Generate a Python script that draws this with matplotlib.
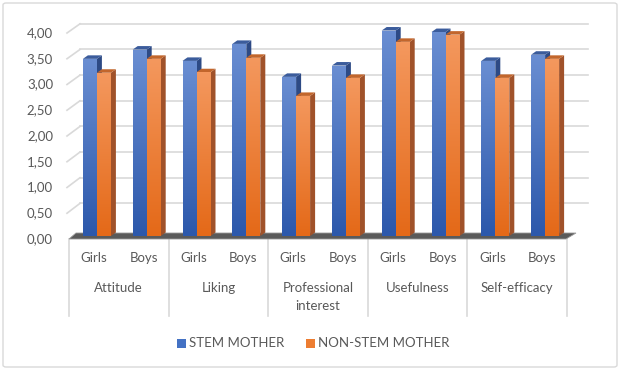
import numpy as np
import matplotlib
matplotlib.use("Agg")
import matplotlib.pyplot as plt
from matplotlib.patches import Polygon, FancyBboxPatch

# data
groups = ["Attitude", "Liking", "Professional\ninterest", "Usefulness", "Self-efficacy"]
genders = ["Girls", "Boys"]
stem_mother = [3.44, 3.62, 3.40, 3.73, 3.09, 3.31, 3.99, 3.96, 3.40, 3.52]
non_stem_mother = [3.17, 3.44, 3.18, 3.46, 2.72, 3.07, 3.77, 3.91, 3.07, 3.44]
yticks = [0, 0.5, 1.0, 1.5, 2.0, 2.5, 3.0, 3.5, 4.0]

W, H = 621, 379
# pixel layout of the front plane of the fake 3D chart
X0, XSTEP = 69, 49.8      # left edge of category axis, px per sub-category
Y0, YSTEP = 239, 51.5     # y of value 0 at the front, px per unit

text_col = "#595959"
grid_col = "#D9D9D9"
fs = 9.5
plt.rcParams["font.family"] = ["Lato", "DejaVu Sans"]

fig = plt.figure(figsize=(W / 100, H / 100), dpi=100)
ax = fig.add_axes([0, 0, 1, 1])
ax.axis("off")

# chart border
fig.patches.append(FancyBboxPatch((3 / W, 12 / H), 614 / W, 364 / H,
                                  boxstyle="round,pad=0,rounding_size=0.005",
                                  transform=fig.transFigure, fc="white",
                                  ec=grid_col, lw=1, zorder=-10))

# back wall gridlines + side wall stubs
back_dx, back_dy = 11 / XSTEP, 10 / YSTEP
for v in yticks:
    if v > 0:
        yb = v * 0.996 + back_dy
        ax.plot([back_dx, 519 / XSTEP], [yb, yb], color=grid_col, lw=1.2, zorder=1)
        ax.plot([-2 / XSTEP, back_dx], [v, yb], color=grid_col, lw=1.2, zorder=1)
    ax.text(-16 / XSTEP, v, f"{v:.2f}".replace(".", ","), ha="right", va="center",
            fontsize=fs, color=text_col)

# floor
floor = Polygon([(0, 0), (497 / XSTEP, 0), (507 / XSTEP, 6 / YSTEP), (7 / XSTEP, 6 / YSTEP)],
                closed=True, fc="#5a5a5a", ec="#9a9a9a", lw=0.6, zorder=2)
ax.add_patch(floor)

# bars
n = len(stem_mother)
bw = 14 / XSTEP
ddx, ddy = 5 / XSTEP, 3.5 / YSTEP
base = 3 / YSTEP
series = [
    (stem_mother, -11 / XSTEP, (0x6a, 0x8e, 0xd2), (0x2c, 0x58, 0xab), "#2d4a85", "#3b5c9c"),
    (non_stem_mother, 3 / XSTEP, (0xf4, 0x98, 0x5e), (0xe4, 0x69, 0x18), "#a0522a", "#c2662c"),
]
z = 3
for vals, off, ctop, cbot, cside, ctopface in series:
    grad = np.linspace(np.array(cbot) / 255, np.array(ctop) / 255, 64)[:, None, :]
    for i, v in enumerate(vals):
        xl = i + 0.5 + off
        side = Polygon([(xl + bw, base), (xl + bw + ddx, base + ddy),
                        (xl + bw + ddx, base + v + ddy), (xl + bw, base + v)],
                       closed=True, fc=cside, ec="none", zorder=z)
        top = Polygon([(xl, base + v), (xl + ddx, base + v + ddy),
                       (xl + bw + ddx, base + v + ddy), (xl + bw, base + v)],
                      closed=True, fc=ctopface, ec="none", zorder=z)
        ax.add_patch(side)
        ax.add_patch(top)
        bar = ax.bar(xl, v, bottom=base, width=bw, align="edge", color="none",
                     edgecolor="none", zorder=z)[0]
        im = ax.imshow(grad, extent=[xl, xl + bw, base, base + v], origin="lower",
                       aspect="auto", zorder=z, interpolation="bilinear")
        im.set_clip_path(bar)
        z += 0.01

# category axis
for g in range(len(groups) + 1):
    ax.plot([2 * g, 2 * g], [0, -77 / YSTEP], color=grid_col, lw=1.2, zorder=1)
for i in range(n):
    ax.text(i + 0.5, -19 / YSTEP, genders[i % 2], ha="center", va="center",
            fontsize=fs, color=text_col)
for g, name in enumerate(groups):
    ax.text(2 * g + 1, -43 / YSTEP, name, ha="center", va="top", fontsize=fs,
            color=text_col, linespacing=1.55)

# legend
leg_y = -104 / YSTEP
sq = 9
ax.add_patch(plt.Rectangle((108 / XSTEP, leg_y - 4.5 / YSTEP), sq / XSTEP, sq / YSTEP,
                           fc="#4472C4", ec="none"))
ax.text(120 / XSTEP, leg_y, "STEM MOTHER", ha="left", va="center", fontsize=fs, color=text_col)
ax.add_patch(plt.Rectangle((237 / XSTEP, leg_y - 4.5 / YSTEP), sq / XSTEP, sq / YSTEP,
                           fc="#ED7D31", ec="none"))
ax.text(249 / XSTEP, leg_y, "NON-STEM MOTHER", ha="left", va="center", fontsize=fs, color=text_col)

ax.set_xlim(-X0 / XSTEP, (W - X0) / XSTEP)
ax.set_ylim((Y0 - H) / YSTEP, Y0 / YSTEP)

fig.savefig("out.png", dpi=100)
